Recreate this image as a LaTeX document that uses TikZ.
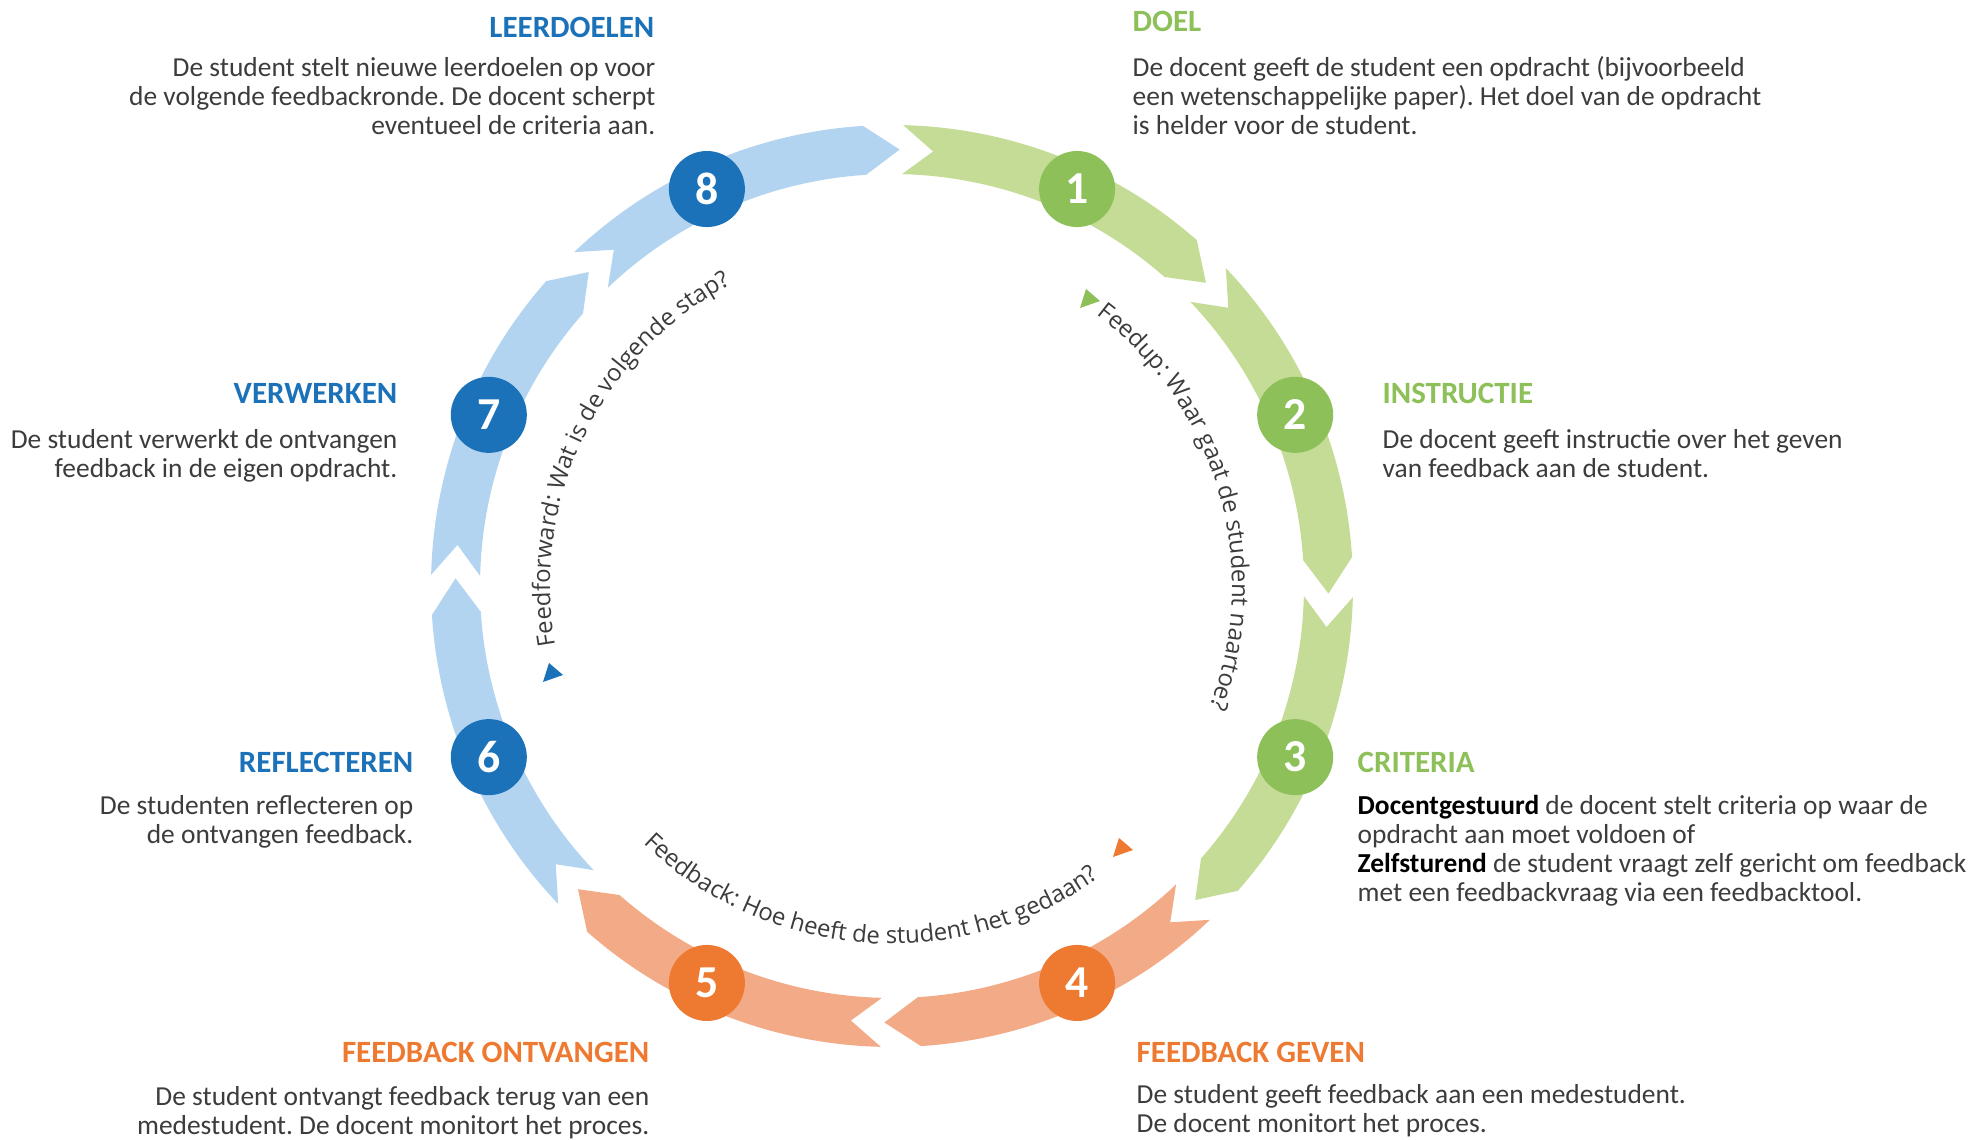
\documentclass[tikz,border=0pt]{standalone}
\usepackage{fontspec}
\setmainfont{Carlito}
\newfontfamily\arcfont{Open Sans}
\usetikzlibrary{decorations.text}
\frenchspacing

\definecolor{grnband}{HTML}{C5DC96}
\definecolor{grncirc}{HTML}{8DC058}
\definecolor{orgband}{HTML}{F3AA87}
\definecolor{orgcirc}{HTML}{EE7A32}
\definecolor{bluband}{HTML}{B2D4F0}
\definecolor{blucirc}{HTML}{1B72B9}
\definecolor{bodygray}{HTML}{3C3C3C}

\begin{document}
\begin{tikzpicture}[x=0.01cm, y=0.01cm]

\tikzset{stepnum/.style = {shape=circle, minimum size=0.76cm, inner sep=0, text=white, font=\fontsize{13}{14}\selectfont\bfseries}}
\tikzset{head/.style = {font=\fontsize{8.8}{10}\selectfont\bfseries, inner sep=0}}
\tikzset{body/.style = {font=\fontsize{7.8}{8.3}\selectfont, text=bodygray, inner sep=0}}
\tikzset{arctext/.style = {decorate, decoration={text along path, text color=bodygray, text={|\arcfont\fontsize{6.8}{8}\selectfont|#1}}}}

\useasboundingbox (-892,-554) rectangle (1090,586);
\fill[white] (-892,-554) rectangle (1090,586);

% ring of arrows
\foreach \s/\col in {89/grnband, 44/grnband, -1/grnband, -46/orgband, -91/orgband, -136/bluband, 179/bluband, 134/bluband}
  \fill[\col] (\s-0.4:461) arc[start angle=\s-0.4, end angle=\s-40.4, radius=461] -- (\s-45:436.5)
    -- (\s-40.4:412) arc[start angle=\s-40.4, end angle=\s-0.4, radius=412] -- (\s-4.4:436.5) -- cycle;

% steps
\foreach \a/\n/\col in {65/1/grncirc, 23/2/grncirc, -23/3/grncirc, -65/4/orgcirc, -115/5/orgcirc, -157/6/blucirc, 157/7/blucirc, 115/8/blucirc}
  \node[stepnum, fill=\col] (s\n) at (\a:438) {\n};

% inner labels
\path[arctext={Feedup: Waar gaat de student naartoe?}] (53:340) arc[start angle=53, end angle=-40, radius=340];
\path[arctext={Feedforward: Wat is de volgende stap?}] (190:342) arc[start angle=190, end angle=95, radius=342];
\path[arctext={Feedback: Hoe heeft de student het gedaan?}] (-134:358) arc[start angle=-134, end angle=-35, radius=358];
\fill[grncirc, shift={(197,287)}] (-3,10) -- (-9,-9) -- (11,-2) -- cycle;
\fill[blucirc, shift={(-340,-87)}] (-3,10) -- (-9,-9) -- (11,-2) -- cycle;
\fill[orgcirc, shift={(230,-262)}] (-3,10) -- (-9,-9) -- (11,-2) -- cycle;

% texts
\node[head, text=grncirc, anchor=base west] (doel) at (240,554) {DOEL};
\node[body, align=left, anchor=north west] (doeltxt) at (240,531) {\strut De docent geeft de student een opdracht (bijvoorbeeld\\een wetenschappelijke paper). Het doel van de opdracht\\is helder voor de student.};

\node[head, text=grncirc, anchor=base west] (instr) at (490,182) {INSTRUCTIE};
\node[body, align=left, anchor=north west] (instrtxt) at (490,159) {\strut De docent geeft instructie over het geven\\van feedback aan de student.};

\node[head, text=grncirc, anchor=base west] (crit) at (465,-187) {CRITERIA};
\node[body, align=left, anchor=north west] (crittxt) at (465,-207) {\strut\textbf{\color{black}Docentgestuurd} de docent stelt criteria op waar de\\opdracht aan moet voldoen of\\\textbf{\color{black}Zelfsturend} de student vraagt zelf gericht om feedback\\met een feedbackvraag via een feedbacktool.};

\node[head, text=orgcirc, anchor=base west] (geven) at (244,-476) {FEEDBACK GEVEN};
\node[body, align=left, anchor=north west] (geventxt) at (244,-496) {\strut De student geeft feedback aan een medestudent.\\De docent monitort het proces.};

\node[head, text=orgcirc, anchor=base east] (ontv) at (-242,-476) {FEEDBACK ONTVANGEN};
\node[body, align=right, anchor=north east] (ontvtxt) at (-242,-498) {\strut De student ontvangt feedback terug van een\\medestudent. De docent monitort het proces.};

\node[head, text=blucirc, anchor=base east] (refl) at (-478,-187) {REFLECTEREN};
\node[body, align=right, anchor=north east] (refltxt) at (-478,-207) {\strut De studenten reflecteren op\\de ontvangen feedback.};

\node[head, text=blucirc, anchor=base east] (verw) at (-494,182) {VERWERKEN};
\node[body, align=right, anchor=north east] (verwtxt) at (-494,159) {\strut De student verwerkt de ontvangen\\feedback in de eigen opdracht.};

\node[head, text=blucirc, anchor=base east] (leer) at (-237,548) {LEERDOELEN};
\node[body, align=right, anchor=north east] (leertxt) at (-236,531) {\strut De student stelt nieuwe leerdoelen op voor\\de volgende feedbackronde. De docent scherpt\\eventueel de criteria aan.};
\end{tikzpicture}
\end{document}
